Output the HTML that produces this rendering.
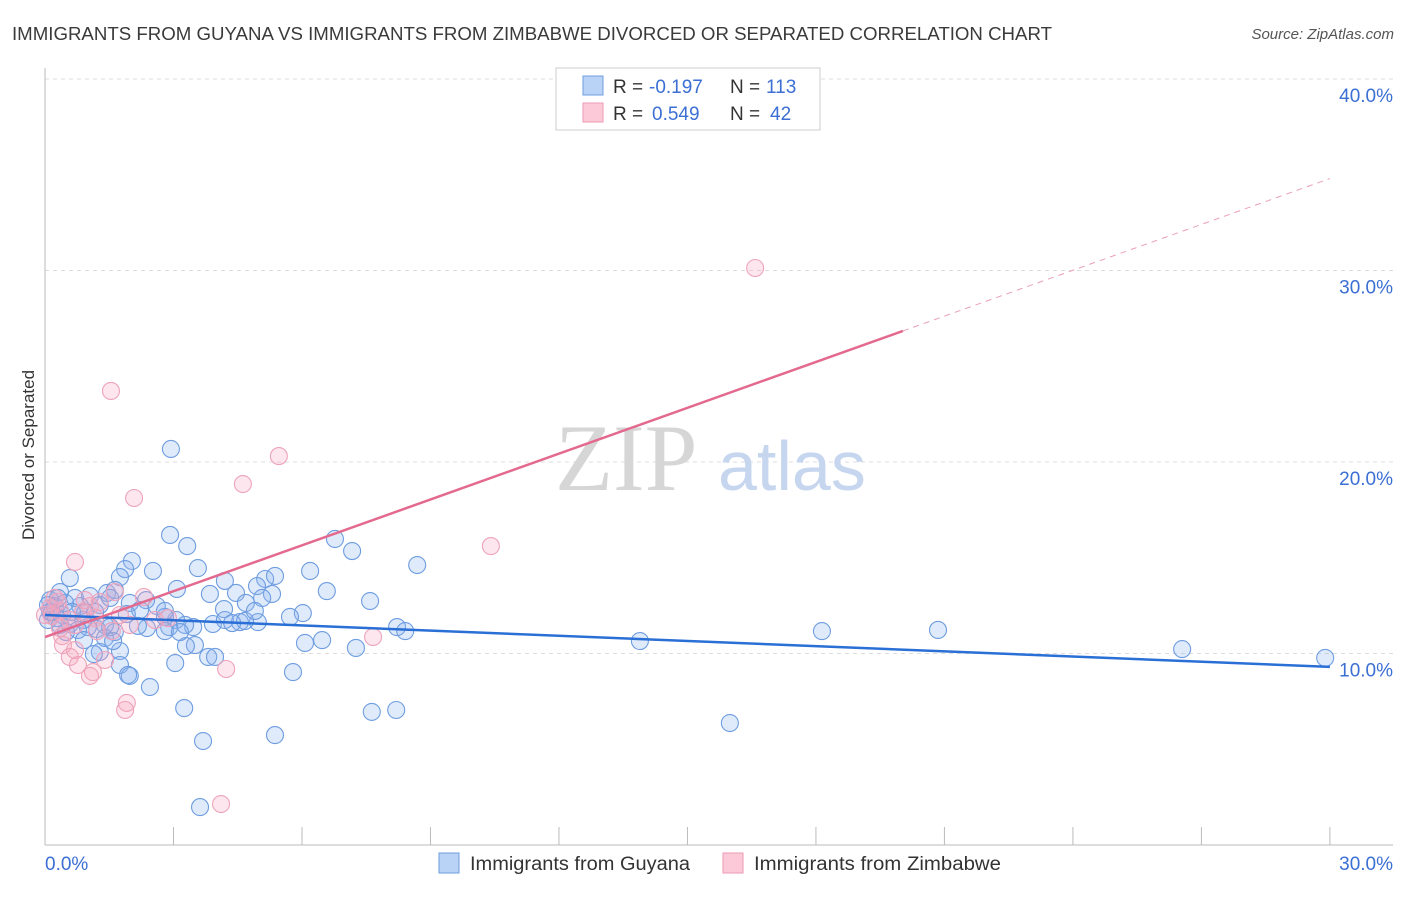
<!DOCTYPE html>
<html><head><meta charset="utf-8"><style>
body{margin:0;background:#fff;font-family:"Liberation Sans",sans-serif;}
</style></head><body>
<svg id="chart" width="1406" height="892" xmlns="http://www.w3.org/2000/svg" font-family="Liberation Sans, sans-serif">
<text x="12" y="40" font-size="18" fill="#3a3a3a" textLength="1040" lengthAdjust="spacingAndGlyphs">IMMIGRANTS FROM GUYANA VS IMMIGRANTS FROM ZIMBABWE DIVORCED OR SEPARATED CORRELATION CHART</text>
<text x="1394" y="39" font-size="15" fill="#555" font-style="italic" text-anchor="end">Source: ZipAtlas.com</text>
<g id="grid"></g>
<text x="555" y="490" font-size="95" fill="#d6d6d6" font-family="Liberation Serif, serif">ZIP</text>
<text x="718" y="490" font-size="70" fill="#c6d6ef">atlas</text>
<g id="marks"></g>
<text transform="translate(34,455) rotate(-90)" font-size="17" fill="#333" text-anchor="middle">Divorced or Separated</text>
<g>
<rect x="556" y="68" width="264" height="62" fill="#fff" stroke="#ccc"/>
<rect x="583" y="76" width="20" height="19" fill="#b8d3f5" stroke="#6f9ee0"/>
<rect x="583" y="103" width="20" height="19" fill="#fbc9d8" stroke="#ec9ab3"/>
<text x="613" y="93" font-size="19" fill="#333">R =</text>
<text x="649" y="93" font-size="19" fill="#3b6fd4">-0.197</text>
<text x="730" y="93" font-size="19" fill="#333">N =</text>
<text x="766" y="93" font-size="19" fill="#3b6fd4">113</text>
<text x="613" y="120" font-size="19" fill="#333">R =</text>
<text x="652" y="120" font-size="19" fill="#3b6fd4">0.549</text>
<text x="730" y="120" font-size="19" fill="#333">N =</text>
<text x="770" y="120" font-size="19" fill="#3b6fd4">42</text>
</g>
<g>
<rect x="439" y="853" width="20" height="20" fill="#b8d3f5" stroke="#6f9ee0"/>
<text x="470" y="870" font-size="19" fill="#333" textLength="220" lengthAdjust="spacingAndGlyphs">Immigrants from Guyana</text>
<rect x="723" y="853" width="20" height="20" fill="#fbc9d8" stroke="#ec9ab3"/>
<text x="754" y="870" font-size="19" fill="#333" textLength="247" lengthAdjust="spacingAndGlyphs">Immigrants from Zimbabwe</text>
</g>
</svg>
<script>
const xTicks=[0,3,6,9,12,15,18,21,24,27,30];
const yTicks=[10,20,30,40];
const yTickLabels=["10.0%","20.0%","30.0%","40.0%"];
const xEndLabels=["0.0%","30.0%"];
const guyanaX=[2.94,2.92,3.32,6.77,7.17,8.69,3.57,2.03,1.87,2.52,1.75,0.58,3.08,4.20,5.14,5.37,6.19,6.58,4.95,4.46,3.85,5.30,7.59,4.69,4.18,2.61,2.36,0.35,1.05,1.45,1.63,1.98,1.28,0.82,6.02,8.22,8.41,4.97,4.55,4.67,3.92,3.46,3.06,2.90,2.38,2.17,1.63,1.40,1.21,1.00,0.89,0.40,0.23,0.12,0.07,6.47,6.07,7.26,13.89,18.14,20.85,26.55,29.89,3.50,3.29,3.04,1.75,1.28,1.14,1.75,1.98,3.81,3.97,5.79,2.45,3.25,7.63,8.20,15.99,5.37,3.69,3.62,0.12,0.26,0.47,0.70,0.93,1.17,1.52,2.22,2.80,2.80,3.27,4.20,0.35,0.58,0.77,1.52,1.91,0.63,0.16,0.30,0.49,0.91,1.40,1.59,1.94,4.37,5.72,2.80,3.15,5.07,4.90,0.07];
const guyanaY=[20.68,16.19,15.61,15.98,15.35,14.62,14.46,14.83,14.41,14.31,13.99,13.94,13.37,13.79,13.89,14.05,14.31,13.26,13.52,13.16,13.11,13.11,12.74,12.64,12.32,12.48,12.79,13.21,13.00,13.16,13.32,12.64,12.53,12.48,12.11,11.38,11.17,11.64,11.64,11.70,11.54,11.38,11.75,11.38,11.33,11.44,11.12,11.49,11.28,11.38,11.75,12.01,12.48,12.79,11.75,10.70,10.55,10.29,10.65,11.17,11.23,10.23,9.77,10.44,10.39,9.50,10.13,10.08,9.97,9.40,8.83,9.82,9.82,9.03,8.25,7.15,6.95,7.05,6.37,5.74,5.43,1.98,12.17,11.85,12.64,12.90,12.11,12.17,12.90,12.27,11.91,12.22,11.49,11.75,11.49,11.54,11.23,11.38,12.06,12.17,12.17,12.90,11.12,10.70,10.81,10.65,8.88,11.59,11.91,11.17,11.12,12.90,12.22,12.53];
const zimX=[16.58,1.54,5.46,4.62,2.08,10.41,0.70,1.63,2.31,1.05,0.30,0.12,0.16,0.35,0.58,0.70,0.89,1.17,1.28,1.98,2.57,2.87,1.56,1.21,0.40,0.42,0.58,0.70,0.77,1.12,1.05,1.40,1.91,1.87,4.23,4.11,7.66,0.23,0.00,0.35,0.93,1.75];
const zimY=[30.13,23.71,20.31,18.85,18.12,15.61,14.78,13.21,12.95,12.48,12.69,12.38,11.96,12.22,11.75,11.49,12.17,11.85,12.69,11.49,11.75,11.85,11.17,11.17,10.91,10.44,9.82,10.18,9.40,9.03,8.83,9.66,7.42,7.05,9.19,2.14,10.86,12.90,12.01,11.33,12.79,12.01];
const guyanaTrend=[12.01,9.30];
const zimTrend=[10.86,34.8];
const zimSolidEnd=20.03;

const NS="http://www.w3.org/2000/svg";
const X=v=>45+v*42.83;
const Y=v=>845-v*19.15;
function mk(tag,attrs,parent){const e=document.createElementNS(NS,tag);for(const k in attrs)e.setAttribute(k,attrs[k]);parent.appendChild(e);return e;}
const grid=document.getElementById('grid');
const marks=document.getElementById('marks');
yTicks.forEach((t,i)=>{
  const l=mk('line',{x1:45,x2:1393,y1:Y(t),y2:Y(t),stroke:'#dcdcdc','stroke-dasharray':'4,4'},grid);
  
  
  const tx=mk('text',{x:1393,y:Y(t)+23,'font-size':19,fill:'#3b6fd4','text-anchor':'end'},grid);
  tx.textContent=yTickLabels[i];
  
  
});
const ax=mk('line',{x1:45,x2:45,y1:68,y2:845,stroke:'#bbb'},grid);


const bx=mk('line',{x1:45,x2:1393,y1:845,y2:845,stroke:'#bbb'},grid);


xTicks.forEach(t=>{
  const l=mk('line',{x1:X(t),x2:X(t),y1:827,y2:845,stroke:'#bbb'},grid);
  
  
});
[[0,'start',45],[30,'end',1393]].forEach((d,i)=>{
  const tx=mk('text',{x:d[2],y:870,'font-size':19,fill:'#3b6fd4','text-anchor':d[1]},grid);
  tx.textContent=xEndLabels[i];
  
  
});
guyanaX.forEach((v,i)=>{
  const c=mk('circle',{cx:X(v),cy:Y(guyanaY[i]),r:8.5,fill:'rgba(140,180,240,0.28)',stroke:'#6e9de0','stroke-width':1.1},marks);
  
  
});
zimX.forEach((v,i)=>{
  const c=mk('circle',{cx:X(v),cy:Y(zimY[i]),r:8.5,fill:'rgba(248,165,192,0.28)',stroke:'#eea3ba','stroke-width':1.1},marks);
  
  
});
const gl=mk('line',{x1:X(0),y1:Y(guyanaTrend[0]),x2:X(30),y2:Y(guyanaTrend[1]),stroke:'#2a6fd6','stroke-width':2.5},marks);


const zs=(zimTrend[1]-zimTrend[0])/30;
const zl=mk('line',{x1:X(0),y1:Y(zimTrend[0]),x2:X(zimSolidEnd),y2:Y(zimTrend[0]+zs*zimSolidEnd),stroke:'#e4698f','stroke-width':2.5},marks);


const zd=mk('line',{x1:X(zimSolidEnd),y1:Y(zimTrend[0]+zs*zimSolidEnd),x2:X(30),y2:Y(zimTrend[1]),stroke:'#eaa0b8','stroke-width':1,'stroke-dasharray':'6,5'},marks);


</script>
</body></html>
